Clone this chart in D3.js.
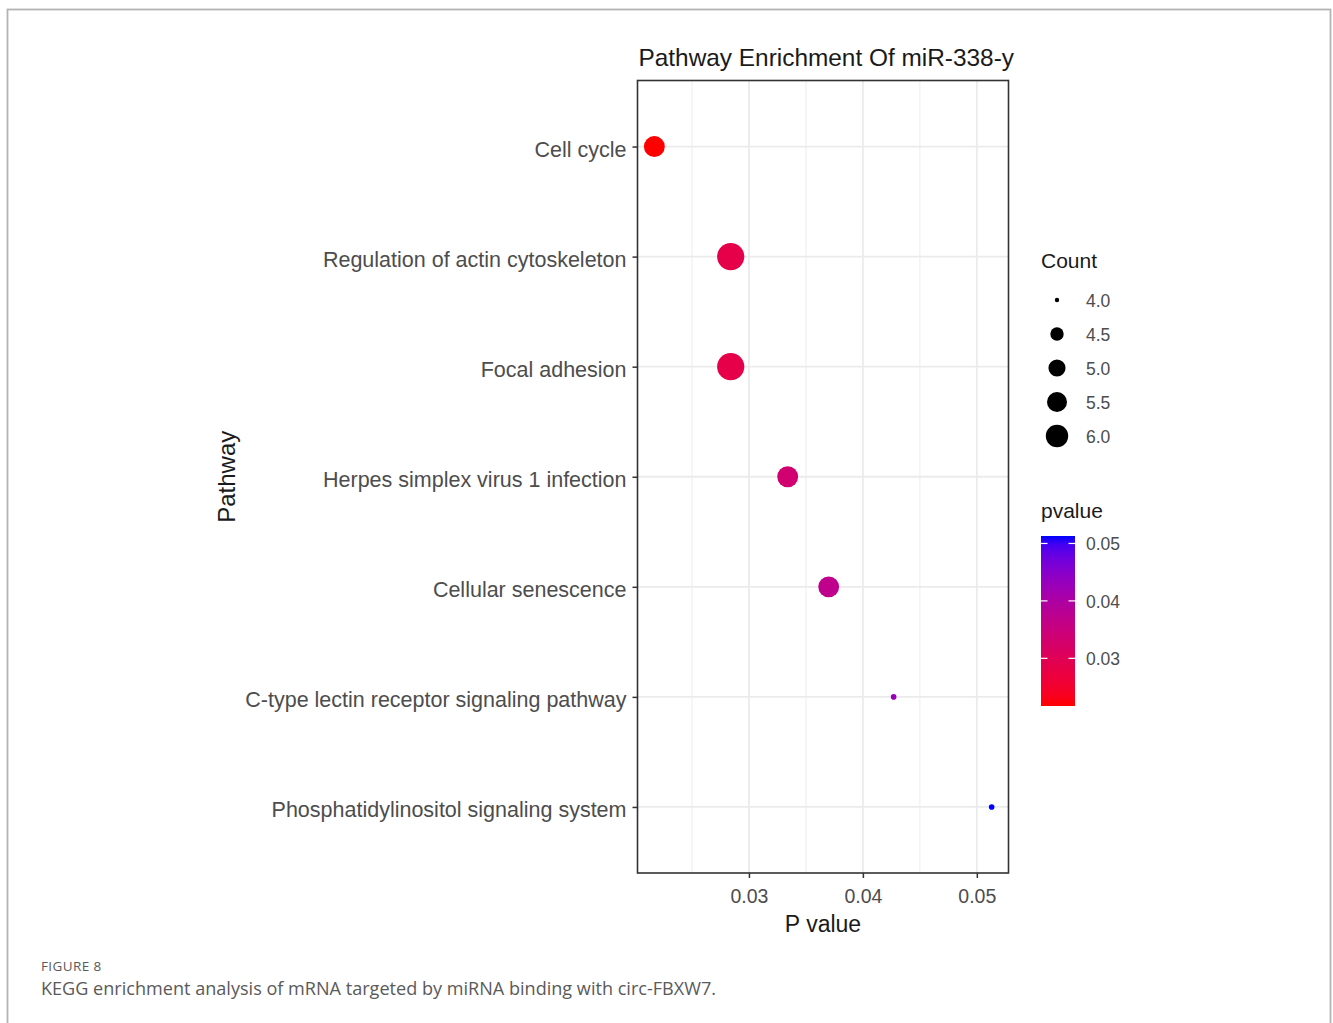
<!DOCTYPE html>
<html>
<head>
<meta charset="utf-8">
<script src="https://cdn.jsdelivr.net/npm/d3@7"></script>
<style>
  html, body { margin: 0; padding: 0; background: #fff; }
  svg { display: block; }
</style>
</head>
<body>
<svg id="chart" width="1333" height="1023"></svg>
<script>
// KEGG pathways, top to bottom
const pathways = [
  "Cell cycle",
  "Regulation of actin cytoskeleton",
  "Focal adhesion",
  "Herpes simplex virus 1 infection",
  "Cellular senescence",
  "C-type lectin receptor signaling pathway",
  "Phosphatidylinositol signaling system"
];
const pValues = [0.0217, 0.0284, 0.0284, 0.0334, 0.0370, 0.0427, 0.0513];
const counts  = [5, 6, 6, 5, 5, 4, 4];

const xTicks = [0.03, 0.04, 0.05];
const xMinorTicks = [0.025, 0.035, 0.045];
const countBreaks = [4.0, 4.5, 5.0, 5.5, 6.0];
const pvalueBreaks = [0.03, 0.04, 0.05];

const titleText = "Pathway Enrichment Of miR-338-y";
const xTitle = "P value";
const yTitle = "Pathway";
const figureLabel = "FIGURE 8";
const captionText = "KEGG enrichment analysis of mRNA targeted by miRNA binding with circ-FBXW7.";

const rows = pathways.map((name, i) => ({ name, p: pValues[i], count: counts[i] }));

const svg = d3.select("#chart");
const font = "'Liberation Sans', Arial, sans-serif";
const captionFont = "'Open Sans', Lato, sans-serif";

// page frame
svg.append("rect")
  .attr("x", 7.5).attr("y", 9.5).attr("width", 1323).attr("height", 1030)
  .attr("fill", "none").attr("stroke", "#b3b3b3").attr("stroke-width", 1.8);

const panel = { left: 637.5, right: 1008.5, top: 80.5, bottom: 873 };

// x scale with 5% expansion on each side
const pMin = d3.min(pValues), pMax = d3.max(pValues);
const pad = (pMax - pMin) * 0.05;
const x = d3.scaleLinear().domain([pMin - pad, pMax + pad]).range([panel.left, panel.right]);
const y = d3.scalePoint().domain(pathways).range([panel.top, panel.bottom]).padding(0.6);

// colour: low p = red, high p = blue
const color = d3.scaleLinear().domain([pMin, pMax]).range(["#ff0000", "#0000ff"]).interpolate(d3.interpolateLab);

// point size (radius linear in sqrt of rescaled count)
const countNorm = d3.scaleLinear().domain([4, 6]).range([0, 1]);
const plotRadius = d3.scaleLinear().domain([0, 1]).range([2.8, 13.6]);
const keyRadius = d3.scaleLinear().domain([0, 1]).range([2.2, 11.2]);
const rPlot = c => plotRadius(Math.sqrt(countNorm(c)));
const rKey = c => keyRadius(Math.sqrt(countNorm(c)));

// grid
const g = svg.append("g");
g.selectAll("line.minor").data(xMinorTicks).join("line")
  .attr("x1", d => x(d)).attr("x2", d => x(d))
  .attr("y1", panel.top).attr("y2", panel.bottom)
  .attr("stroke", "#f0f0f0").attr("stroke-width", 1.2);
g.selectAll("line.xmaj").data(xTicks).join("line")
  .attr("x1", d => x(d)).attr("x2", d => x(d))
  .attr("y1", panel.top).attr("y2", panel.bottom)
  .attr("stroke", "#ebebeb").attr("stroke-width", 1.8);
g.selectAll("line.ymaj").data(pathways).join("line")
  .attr("x1", panel.left).attr("x2", panel.right)
  .attr("y1", d => y(d)).attr("y2", d => y(d))
  .attr("stroke", "#ebebeb").attr("stroke-width", 1.8);

// points
g.selectAll("circle.pt").data(rows).join("circle")
  .attr("cx", d => x(d.p)).attr("cy", d => y(d.name))
  .attr("r", d => rPlot(d.count))
  .attr("fill", d => color(d.p));

// panel border
svg.append("rect")
  .attr("x", panel.left).attr("y", panel.top)
  .attr("width", panel.right - panel.left).attr("height", panel.bottom - panel.top)
  .attr("fill", "none").attr("stroke", "#333").attr("stroke-width", 1.6);

// x axis
const xAxis = svg.append("g").attr("transform", `translate(0,${panel.bottom})`)
  .call(d3.axisBottom(x).tickValues(xTicks).tickFormat(d3.format(".2f")).tickSize(5).tickPadding(11));
xAxis.select(".domain").remove();
xAxis.selectAll(".tick line").attr("stroke", "#333").attr("stroke-width", 1.5);
xAxis.selectAll(".tick text").attr("fill", "#4d4d4d").style("font-family", font).style("font-size", "19.5px");

// y axis
const yAxis = svg.append("g").attr("transform", `translate(${panel.left},0)`)
  .call(d3.axisLeft(y).tickSize(5).tickPadding(6));
yAxis.select(".domain").remove();
yAxis.selectAll(".tick line").attr("stroke", "#333").attr("stroke-width", 1.5);
yAxis.selectAll(".tick text").attr("fill", "#4d4d4d").attr("dy", "0.45em")
  .style("font-family", font).style("font-size", "21.5px");

// titles
svg.append("text").attr("x", panel.left + 1).attr("y", 66)
  .style("font-family", font).style("font-size", "24.4px").attr("fill", "#1a1a1a")
  .text(titleText);
svg.append("text").attr("x", (panel.left + panel.right) / 2).attr("y", 932)
  .attr("text-anchor", "middle")
  .style("font-family", font).style("font-size", "23px").attr("fill", "#1a1a1a")
  .text(xTitle);
svg.append("text")
  .attr("transform", `translate(235,${(panel.top + panel.bottom) / 2}) rotate(-90)`)
  .attr("text-anchor", "middle")
  .style("font-family", font).style("font-size", "24px").attr("fill", "#1a1a1a")
  .text(yTitle);

// size legend
const legX = 1041;
svg.append("text").attr("x", legX).attr("y", 268)
  .style("font-family", font).style("font-size", "21px").attr("fill", "#1a1a1a")
  .text("Count");
const keyY = d3.scalePoint().domain(countBreaks).range([300, 436]);
const sizeKeys = svg.append("g").selectAll("g").data(countBreaks).join("g")
  .attr("transform", d => `translate(0,${keyY(d)})`);
sizeKeys.append("circle").attr("cx", 1057).attr("cy", 0).attr("r", d => rKey(d)).attr("fill", "#000");
sizeKeys.append("text").attr("x", 1086).attr("dy", "0.4em")
  .style("font-family", font).style("font-size", "17.5px").attr("fill", "#4d4d4d")
  .text(d => d3.format(".1f")(d));

// colour bar legend
svg.append("text").attr("x", legX).attr("y", 518)
  .style("font-family", font).style("font-size", "21px").attr("fill", "#1a1a1a")
  .text("pvalue");
const bar = { x: 1041, w: 34, top: 536, bottom: 706 };
const barY = d3.scaleLinear().domain([pMin, pMax]).range([bar.bottom, bar.top]);
const grad = svg.append("defs").append("linearGradient")
  .attr("id", "pgrad").attr("x1", 0).attr("x2", 0).attr("y1", 1).attr("y2", 0);
d3.range(0, 1.0001, 0.05).forEach(t => {
  grad.append("stop").attr("offset", t).attr("stop-color", color(pMin + t * (pMax - pMin)));
});
svg.append("rect").attr("x", bar.x).attr("y", bar.top).attr("width", bar.w)
  .attr("height", bar.bottom - bar.top).attr("fill", "url(#pgrad)");
const barTicks = svg.append("g").selectAll("g").data(pvalueBreaks).join("g")
  .attr("transform", d => `translate(0,${barY(d)})`);
barTicks.append("line").attr("x1", bar.x).attr("x2", bar.x + 6.5).attr("stroke", "#fff").attr("stroke-width", 1.2);
barTicks.append("line").attr("x1", bar.x + bar.w - 6.5).attr("x2", bar.x + bar.w).attr("stroke", "#fff").attr("stroke-width", 1.2);
barTicks.append("text").attr("x", 1086).attr("dy", "0.4em")
  .style("font-family", font).style("font-size", "17.5px").attr("fill", "#4d4d4d")
  .text(d => d3.format(".2f")(d));

// caption
svg.append("text").attr("x", 41).attr("y", 971)
  .style("font-family", captionFont).style("font-size", "13.5px").style("letter-spacing", "0.4px")
  .attr("fill", "#5a5a5a")
  .text(figureLabel);
svg.append("text").attr("x", 41).attr("y", 995)
  .style("font-family", captionFont).style("font-size", "18px").attr("fill", "#5a5a5a")
  .attr("textLength", 675).attr("lengthAdjust", "spacingAndGlyphs")
  .text(captionText);
</script>
</body>
</html>
